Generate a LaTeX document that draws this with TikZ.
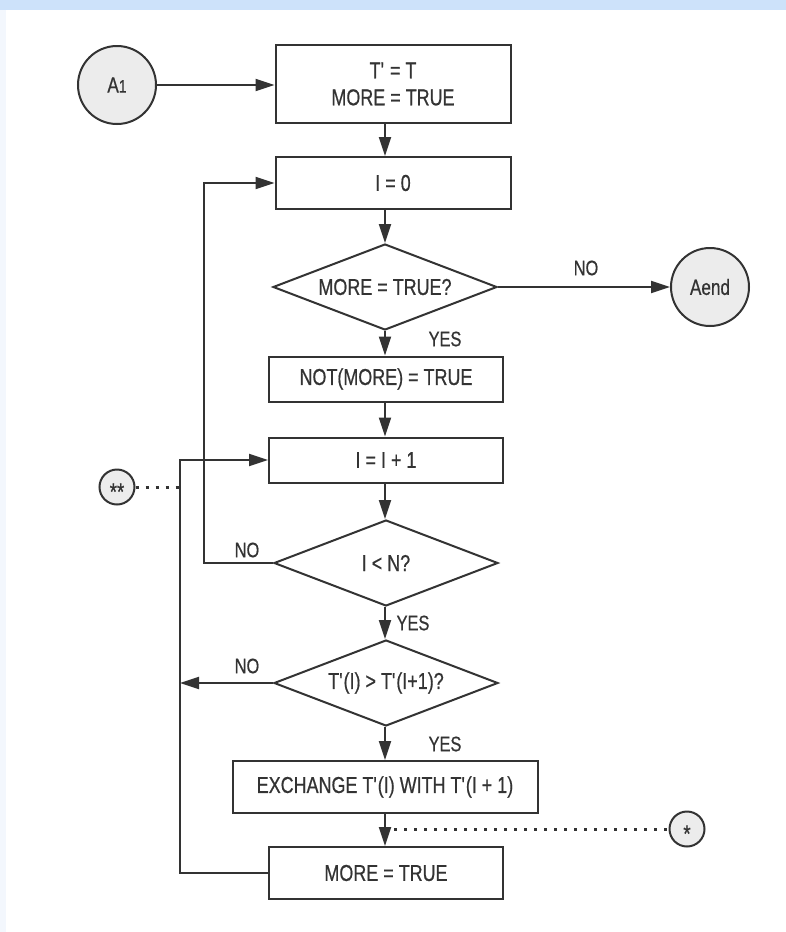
\documentclass[tikz,border=0pt]{standalone}
\usepackage{fontspec}
\setmainfont[FakeStretch=0.78,FakeBold=0.6]{Liberation Sans}
\definecolor{fcline}{RGB}{51,51,51}
\definecolor{fcgrey}{RGB}{236,236,236}
\definecolor{fcband}{RGB}{205,226,250}
\definecolor{fcpale}{RGB}{243,247,253}
\usetikzlibrary{arrows.meta,shapes.geometric,calc}

\begin{document}
\begin{tikzpicture}[x=1pt, y=-1pt,
  procbox/.style={draw=fcline, line width=2pt, fill=white, minimum width=234pt, minimum height=45pt, inner sep=0pt, align=center, text=fcline, font=\fontsize{23}{27}\selectfont},
  decision/.style={draw=fcline, line width=2pt, diamond, aspect=2.6, fill=white, minimum width=224pt, minimum height=86pt, inner sep=0pt, text=fcline, font=\fontsize{23}{24}\selectfont},
  connector/.style={draw=fcline, line width=2pt, circle, fill=fcgrey, minimum size=78pt, inner sep=0pt, text=fcline, font=\fontsize{22}{22}\selectfont},
  offpage/.style={connector, minimum size=35pt, font=\fontsize{24}{24}\selectfont},
  flow/.style={draw=fcline, line width=2pt, -{Triangle[length=19pt,width=12pt]}},
  link/.style={draw=fcline, line width=2pt},
  dotline/.style={draw=fcline, line width=3pt, dash pattern=on 3pt off 7pt},
  lbl/.style={font=\fontsize{21}{22}\selectfont, text=fcline}]
  % frame
  \fill[white] (0,0) rectangle (786,932);
  \fill[fcband] (0,0) rectangle (786,10);
  \fill[fcpale] (0,10) rectangle (6,932);
  \coordinate (loopx) at (204,0);
  \coordinate (outx) at (180,0);
  % entry
  \node[connector] (A1) at (117,85) {A{\fontsize{18}{18}\selectfont 1}};
  \node[procbox, minimum width=235pt, minimum height=78pt] (init) at (393,84) {T\textquotesingle{} = T\\MORE = TRUE};
  \node[procbox, minimum width=235pt, minimum height=52pt] (izero) at (393,183) {I = 0};
  % outer pass
  \node[decision] (more) at (385,287) {MORE = TRUE?};
  \node[connector] (Aend) at (710,287) {Aend};
  \node[procbox] (notmore) at (386,379) {NOT(MORE) = TRUE};
  \node[procbox] (inc) at (386,460) {I = I + 1};
  % inner pass
  \node[decision] (iltn) at (386,563) {I < N?};
  \node[decision] (cmp) at (386,683) {T\textquotesingle(I) > T\textquotesingle(I+1)?};
  \node[procbox, minimum width=305pt, minimum height=52pt] (swap) at (385,787) {EXCHANGE T\textquotesingle(I) WITH T\textquotesingle(I + 1)};
  \node[procbox, minimum height=52pt] (setmore) at (386,873) {MORE = TRUE};
  % off-page marks
  \node[offpage] (mark2) at (117,487) {\smash{\raisebox{-13pt}{**}}};
  \node[offpage] (mark1) at (687,829) {\smash{\raisebox{-13pt}{*}}};
  \coordinate (tap) at (394,829);
  % labels
  \node[lbl] (no1) at (586,268) {NO};
  \node[lbl] (yes1) at (445,339) {YES};
  \node[lbl] (no2) at (247,550) {NO};
  \node[lbl] (yes2) at (413,623) {YES};
  \node[lbl] (no3) at (247,666) {NO};
  \node[lbl] (yes3) at (445,744) {YES};
  % connectors
  \draw[flow] (A1.east) -- (A1.east -| init.west);
  \draw[flow] (init.south -| more) -- (izero.north -| more);
  \draw[flow] (izero.south -| more) -- (more.north);
  \draw[flow] (more.east) -- (Aend.west);
  \draw[flow] (more.south) -- (notmore.north -| more);
  \draw[flow] (notmore.south -| more) -- (inc.north -| more);
  \draw[flow] (inc.south -| more) -- (iltn.north -| more);
  \draw[flow] (iltn.west) -- (iltn.west -| loopx) |- (izero.west);
  \draw[flow] (iltn.south -| more) -- (cmp.north -| more);
  \draw[flow] (cmp.west) -- (cmp.west -| outx);
  \draw[flow] (cmp.south -| more) -- (swap.north -| more);
  \draw[flow] (swap.south -| more) -- (setmore.north -| more);
  \draw[flow] (setmore.west) -- (setmore.west -| outx) |- (inc.west);
  \draw[dotline] (mark2.east) -- (mark2.east -| outx);
  \draw[dotline] (tap) -- (mark1.west);
\end{tikzpicture}
\end{document}
